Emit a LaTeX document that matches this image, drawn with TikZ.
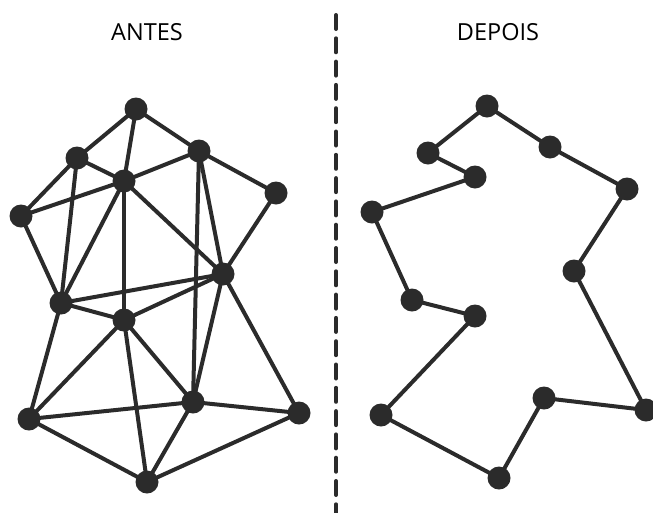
\documentclass[tikz,border=0pt]{standalone}
\usepackage{fontspec}
\setmainfont{Open Sans}
\definecolor{ink}{HTML}{2B2B2B}
\tikzset{
  vertex/.style={circle, fill=ink, inner sep=0pt, minimum size=23pt},
  edge/.style={draw=ink, line width=4pt},
  divider/.style={draw=ink, line width=4pt, line cap=round, dash pattern=on 14pt off 9.3pt},
  heading/.style={text=black, font=\fontsize{23.5}{28}\selectfont}
}
\begin{document}
\begin{tikzpicture}[x=1pt, y=-1pt]
\useasboundingbox (0,0) rectangle (653,512);

% headings
\node[heading] (antes) at (147,32) {ANTES};
\node[heading] (depois) at (498,32) {DEPOIS};

% dashed divider
\coordinate (dtop) at (336,15);
\coordinate (dbot) at (336,520);
\draw[divider] (dtop) -- (dbot);

% left: dense graph
\foreach \n/\x/\y in {a/136/109, b/77/158, c/124/181, d/199/151, e/276/193,
  f/21/216, g/223/274, h/61/303, i/124/320, j/193/402, k/29/419, l/299/413, m/147/482}
  \coordinate (\n) at (\x,\y);
\foreach \u/\v in {a/b, a/c, a/d, b/c, b/f, b/h, c/f, c/d, c/h, c/i, c/g, d/e, d/g, d/j,
  e/g, f/h, h/g, h/i, i/g, h/k, i/k, i/m, i/j, g/j, g/l, k/j, j/l, k/m, j/m, m/l}
  \draw[edge] (\u) -- (\v);
\foreach \n in {a,b,c,d,e,f,g,h,i,j,k,l,m}
  \node[vertex] (n\n) at (\n) {};

% right: single closed tour
\foreach \n/\x/\y in {p1/487/106, p2/550/147, p3/627/189, p4/574/271, p5/646/410,
  p6/544/398, p7/499/478, p8/381/415, p9/475/316, p10/412/300, p11/372/212,
  p12/475/177, p13/428/153}
  \coordinate (\n) at (\x,\y);
\draw[edge, line join=round] (p1) -- (p2) -- (p3) -- (p4) -- (p5) -- (p6) -- (p7)
  -- (p8) -- (p9) -- (p10) -- (p11) -- (p12) -- (p13) -- cycle;
\foreach \n in {p1,p2,p3,p4,p5,p6,p7,p8,p9,p10,p11,p12,p13}
  \node[vertex] (n\n) at (\n) {};
\end{tikzpicture}
\end{document}
